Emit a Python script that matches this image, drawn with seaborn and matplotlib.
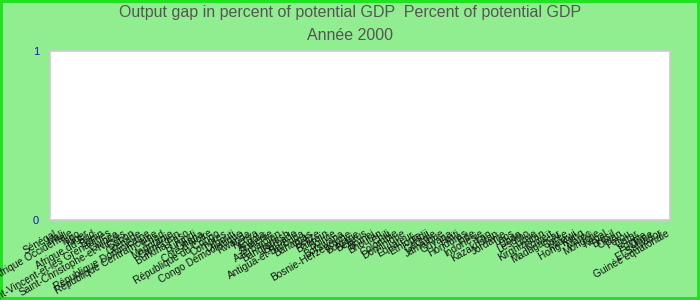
import matplotlib
matplotlib.use("Agg")
import matplotlib.pyplot as plt
import seaborn as sns
import pandas as pd

title_line1 = "Output gap in percent of potential GDP  Percent of potential GDP"
title_line2 = "Année 2000"

countries = [
    "Sénégal", "Mali", "Afrique Occidentale", "Togo", "Niger", "Afrique du Sud",
    "Bénin", "Saint-Vincent-et-les Grenadines", "Guinée", "Saint-Christophe-et-Niévès",
    "Gabon", "Grenade", "République Dominicaine", "République Centrafricaine", "Tchad",
    "Mauritanie", "Cameroun", "Burkina Faso", "Burundi", "Ghana", "Côte d'Ivoire",
    "République du Congo", "Comores", "Djibouti", "Congo Démocratique", "Rwanda",
    "Kenya", "Angola", "Arménie", "Azerbaïdjan", "Bangladesh", "Barbade",
    "Antigua-et-Barbuda", "Bahamas", "Belize", "Bahreïn", "Bolivie", "Botswana",
    "Bosnie-Herzégovine", "Bulgarie", "Bélarus", "Brunei", "Bhoutan", "Chili",
    "Colombie", "Dominique", "Équateur", "Éthiopie", "Fidji", "Géorgie", "Jamaïque",
    "Guyana", "Haïti", "Honduras", "Inde", "Indonésie", "Iran", "Kazakhstan",
    "Jordanie", "Laos", "Liban", "Lesotho", "Libye", "Kirghizistan", "Koweït",
    "Madagascar", "Corée", "Malawi", "Hong Kong", "Maroc", "Mongolie", "Népal",
    "Brésil", "Oman", "Pérou", "Qatar", "Égypte", "Chine", "El Salvador",
    "Guinée équatoriale",
]
values = [0.0] * len(countries)
y_ticks = [0, 1]

df = pd.DataFrame({"pays": countries, "valeur": values})

sns.set_theme(style="white")
plt.rcParams["font.family"] = ["Liberation Sans", "DejaVu Sans"]

fig = plt.figure(figsize=(7, 3), dpi=100)
fig.patch.set_facecolor("#90ee90")
fig.patch.set_edgecolor("#22e022")
fig.patch.set_linewidth(3)

ax = fig.add_axes([50 / 700, 1 - 220 / 300, 620 / 700, 169 / 300])
sns.barplot(data=df, x="pays", y="valeur", color="#4472c4", ax=ax)
ax.set_facecolor("white")
for s in ax.spines.values():
    s.set_color("#cccccc")
    s.set_linewidth(1.2)

ax.set_ylim(0, 1)
ax.set_yticks(y_ticks)
ax.set_yticklabels([str(t) for t in y_ticks], color="#1a1aaa", fontsize=8)
ax.tick_params(axis="y", length=0, pad=8)
ax.tick_params(axis="x", length=0, pad=6)
ax.set_xticks(range(len(countries)))
ax.set_xticklabels(countries, rotation=30, ha="right", va="top",
                   rotation_mode="anchor", fontsize=7.3, color="#111111")
ax.set_xlabel("")
ax.set_ylabel("")

fig.text(0.5, 1 - 13 / 300, title_line1, ha="center", va="center",
         fontsize=11.5, color="#555555")
fig.text(0.5, 1 - 35 / 300, title_line2, ha="center", va="center",
         fontsize=11.5, color="#555555")

fig.savefig("out.png", dpi=100, facecolor=fig.get_facecolor(),
            edgecolor=fig.get_edgecolor())
